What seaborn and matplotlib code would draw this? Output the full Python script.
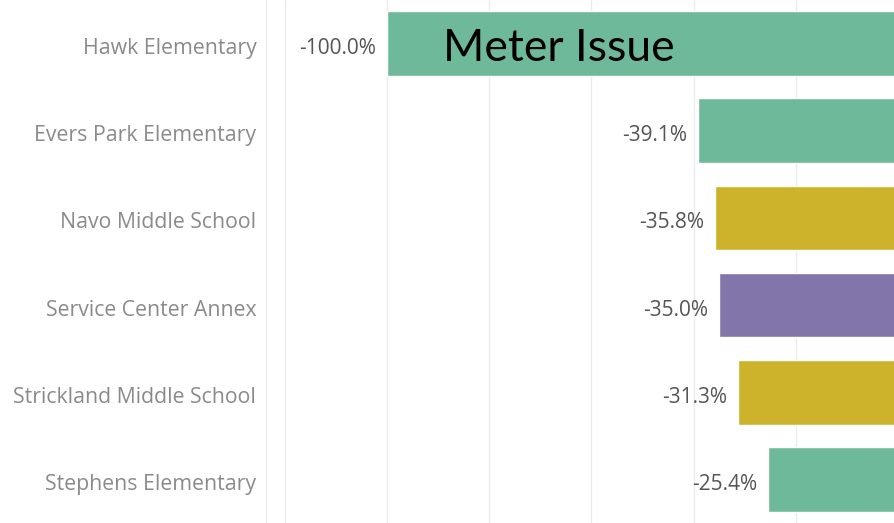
import pandas as pd
import seaborn as sns
import matplotlib.pyplot as plt
from matplotlib.transforms import ScaledTranslation

# Data
schools = ["Hawk Elementary", "Evers Park Elementary", "Navo Middle School",
           "Service Center Annex", "Strickland Middle School", "Stephens Elementary"]
change_pct = [-100.0, -39.1, -35.8, -35.0, -31.3, -25.4]
school_type = ["Elementary", "Elementary", "Middle", "Other", "Middle", "Elementary"]

df = pd.DataFrame({"School": schools, "Change": change_pct, "Type": school_type})

type_palette = {
    "Elementary": "#6fb99b",
    "Middle": "#cdb22b",
    "Other": "#8275aa",
}

sns.set_theme(style="white")
plt.rcParams["font.family"] = ["Open Sans", "DejaVu Sans"]

fig = plt.figure(figsize=(8.94, 5.23), dpi=100)
ax = fig.add_axes([266 / 894, 0.0, 1 - 266 / 894, 1.0])

sns.barplot(
    data=df, y="School", x="Change",
    hue="Type", palette=type_palette,
    dodge=False, width=0.74, legend=False,
    saturation=1, ax=ax
)

# x range cropped just short of zero, as in the reference
ax.set_xlim(-123.7, -0.8)
ax.set_ylim(5.5, -0.5)
ax.set_xticks([-120, -100, -80, -60, -40, -20])
ax.xaxis.grid(True, color="#ebebeb", linewidth=1)
ax.set_axisbelow(True)
ax.tick_params(axis="x", length=0, labelbottom=False)
ax.tick_params(axis="y", length=0, pad=7, labelsize=15.3, labelcolor="#8a8a8a")
shift = ScaledTranslation(0, -2.5 / 100, fig.dpi_scale_trans)
for lbl in ax.get_yticklabels():
    lbl.set_va("center_baseline")
    lbl.set_transform(lbl.get_transform() + shift)
ax.set_xlabel("")
ax.set_ylabel("")

for s in ["top", "right", "bottom"]:
    ax.spines[s].set_visible(False)
ax.spines["left"].set_color("#ebebeb")
ax.spines["left"].set_linewidth(1)

# Value labels at the left end of each bar
for i, v in enumerate(change_pct):
    ax.annotate(f"{v:.1f}%", xy=(v, i), xytext=(-8, -1.8), textcoords="offset points",
                ha="right", va="center_baseline", fontsize=15, color="#555555")

ax.text(-89, 0.2, "Meter Issue", ha="left", va="baseline",
        fontsize=32, color="black", family=["Lato", "DejaVu Sans"])

fig.savefig("out.png", dpi=100)
